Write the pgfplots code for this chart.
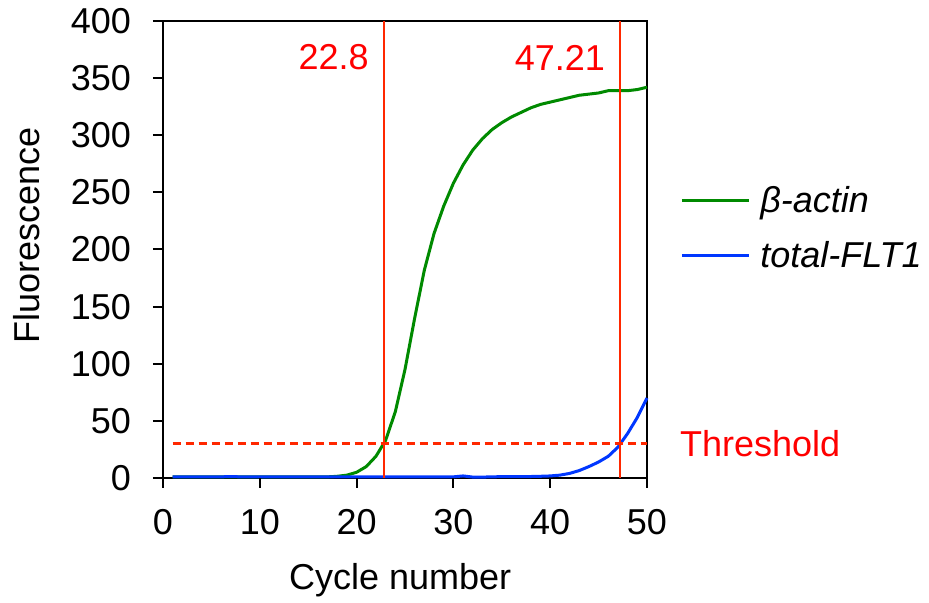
\documentclass[border=0pt]{standalone}
\usepackage{fontspec}
\setmainfont{Liberation Sans}
\usepackage{pgfplots}
\pgfplotsset{compat=1.18}

\definecolor{curvegreen}{RGB}{0,138,0}
\definecolor{curveblue}{RGB}{0,55,255}
\definecolor{linered}{RGB}{255,40,0}
\definecolor{textred}{RGB}{255,0,0}

\begin{document}
\begin{tikzpicture}[font=\fontsize{18}{21}\selectfont]
\path[use as bounding box] (-81.5pt,-62.5pt) rectangle (383pt,239pt);
\begin{axis}[at={(0,0)},anchor=south west,
 width=242pt,height=228.5pt,scale only axis,
 xmin=0,xmax=50,ymin=0,ymax=400,
 xtick={0,10,...,50},ytick={0,50,...,400},
 xtick pos=bottom,ytick pos=left,
 tick align=outside,
 major tick length=5pt,
 axis line style={line width=1pt},
 every major tick/.append style={black,line width=1pt},
 /pgf/number format/assume math mode=true,
 tick label style={font=\fontsize{18}{21}\selectfont},
 xticklabel style={yshift=-7pt},
 yticklabel style={xshift=-7.5pt},
 xlabel={Cycle number},ylabel={Fluorescence},
 xlabel style={at={(axis description cs:0.49,-0.223)},anchor=center},
 ylabel style={at={(axis description cs:-0.281,0.53)},anchor=center,rotate=0},
 label style={font=\fontsize{18}{21}\selectfont},
 legend style={at={(1.068,0.648)},anchor=north west,draw=none,fill=none,
   inner sep=0pt,font=\fontsize{18}{21}\selectfont\itshape,
   legend cell align=left,row sep=9pt,
   nodes={inner xsep=5pt}},
 legend image code/.code={\draw[#1,line width=1.5pt] (0pt,0pt) -- (33.5pt,0pt);},
 clip=false]
\addplot[curvegreen,line width=1.5pt] coordinates {
(1,1) (2,1) (3,1) (4,1) (5,1) (6,1) (7,1) (8,1) (9,1) (10,1)
(11,1) (12,1) (13,1) (14,1) (15,1) (16,1) (17,1) (18,1.5) (19,2.5) (20,5)
(21,10) (22,19) (23,33) (24,58) (25,95) (26,140) (27,182) (28,214) (29,238) (30,258)
(31,274) (32,287) (33,297) (34,305) (35,311) (36,316) (37,320) (38,324) (39,327) (40,329)
(41,331) (42,333) (43,335) (44,336) (45,337) (46,339) (47,339) (48,339) (49,340) (50,342)};
\addlegendentry{β-actin}
\addplot[curveblue,line width=1.5pt] coordinates {
(1,1) (2,1) (3,1) (4,1) (5,1) (6,1) (7,1.3) (8,1) (9,1) (10,1)
(11,1) (12,1) (13,1) (14,1) (15,1) (16,1) (17,1) (18,1) (19,1) (20,1)
(21,1) (22,1) (23,1) (24,1) (25,1) (26,1) (27,1) (28,1) (29,1) (30,1)
(31,1.8) (32,0.8) (33,0.8) (34,1) (35,1.2) (36,1.2) (37,1.2) (38,1.3) (39,1.5) (40,1.8)
(41,2.5) (42,4) (43,6.5) (44,10) (45,14) (46,19) (47,27) (48,39) (49,53) (50,70)};
\addlegendentry{total-FLT1}
\addplot[linered,line width=1pt,forget plot] coordinates {(22.8,0) (22.8,400)};
\addplot[linered,line width=1pt,forget plot] coordinates {(47.21,0) (47.21,400)};
\addplot[linered,line width=1.5pt,dash pattern=on 4pt off 2.5pt,forget plot] coordinates {(1,30) (50,30)};
% tick marks outside the frame
\pgfplotsinvokeforeach{0,10,20,30,40,50}{\draw[black,line width=1pt] (axis cs:#1,0) -- ++(0pt,-5pt);}
\pgfplotsinvokeforeach{0,50,100,150,200,250,300,350,400}{\draw[black,line width=1pt] (axis cs:0,#1) -- ++(-5pt,0pt);}
\node[textred,anchor=east] at (axis cs:22.8,368) {22.8\hspace*{4pt}};
\node[textred,anchor=east] at (axis cs:47.21,368) {47.21\hspace*{4pt}};
\node[textred,anchor=west] at (axis cs:50,30) {\hspace*{13pt}Threshold};
\end{axis}
\end{tikzpicture}
\end{document}
